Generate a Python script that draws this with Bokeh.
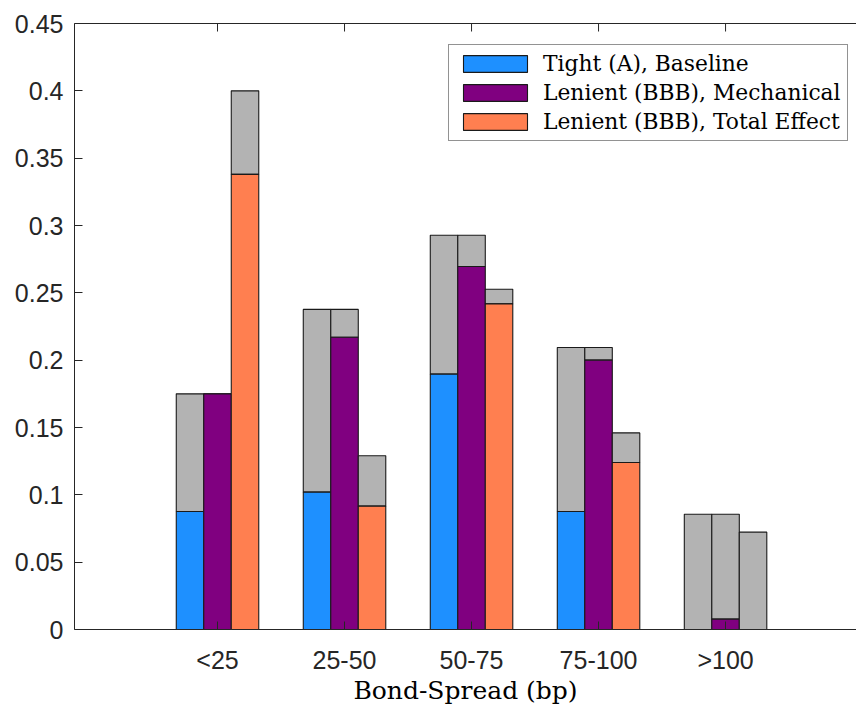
import math
from bokeh.plotting import figure
from bokeh.models import (ColumnDataSource, FixedTicker, LinearAxis, Range1d,
                          Legend, LegendItem)
from bokeh.embed import file_html
from bokeh.resources import INLINE

categories = ["<25", "25-50", "50-75", "75-100", ">100"]
series_names = ["Tight (A), Baseline", "Lenient (BBB), Mechanical", "Lenient (BBB), Total Effect"]
series_colors = ["#1E90FF", "#800080", "#FF7F50"]

# coloured (lower) part of each bar
tight_base = [0.0876, 0.102, 0.1896, 0.0876, 0.0]
lenient_mech = [0.175, 0.217, 0.2696, 0.200, 0.0077]
lenient_total = [0.338, 0.0916, 0.2418, 0.124, 0.0]
# total bar height (grey upper part stacked up to this value)
tight_top = [0.175, 0.2377, 0.2928, 0.2094, 0.0856]
mech_top = [0.175, 0.2377, 0.2928, 0.2094, 0.0856]
total_top = [0.400, 0.129, 0.2527, 0.146, 0.0723]

y_ticks = [0, 0.05, 0.1, 0.15, 0.2, 0.25, 0.3, 0.35, 0.4, 0.45]
y_tick_labels = ["0", "0.05", "0.1", "0.15", "0.2", "0.25", "0.3", "0.35", "0.4", "0.45"]

W, H = 856, 707
p = figure(width=W, height=H, output_backend="svg", toolbar_location=None,
           x_range=Range1d(-0.126, 6.031), y_range=Range1d(y_ticks[0], y_ticks[-1]),
           min_border_left=74, min_border_right=0, min_border_top=23,
           min_border_bottom=78)
p.xgrid.visible = False
p.ygrid.visible = False
p.outline_line_color = None
p.background_fill_color = "white"
p.border_fill_color = "white"

bw = 0.2165
xs = [i + 1 for i in range(len(categories))]
colored = [tight_base, lenient_mech, lenient_total]
tops = [tight_top, mech_top, total_top]
offsets = [-bw, 0.0, bw]
items = []
for k in range(3):
    xk = [x + offsets[k] for x in xs]
    src_c = ColumnDataSource(dict(x=xk, top=colored[k], bottom=[0] * len(xk)))
    src_g = ColumnDataSource(dict(x=xk, top=tops[k], bottom=colored[k]))
    p.vbar(x="x", top="top", bottom="bottom", width=bw, source=src_g,
           fill_color="#B3B3B3", line_color="#1a1a1a", line_width=1.1)
    r = p.vbar(x="x", top="top", bottom="bottom", width=bw, source=src_c,
               fill_color=series_colors[k], line_color="#1a1a1a", line_width=1.1)
    items.append(LegendItem(label=series_names[k], renderers=[r]))

axis_col = "#262626"

xa = p.xaxis[0]
xa.ticker = FixedTicker(ticks=xs)
xa.major_label_overrides = {x: c for x, c in zip(xs, categories)}
xa.axis_label = "Bond-Spread (bp)"
xa.axis_label_text_font = "DejaVu Serif"
xa.axis_label_text_font_style = "normal"
xa.axis_label_text_font_size = "25px"
xa.axis_label_text_color = "#000000"
xa.axis_label_standoff = -1
xa.major_label_text_font = "Liberation Sans"
xa.major_label_text_font_size = "25px"
xa.major_label_text_color = axis_col
xa.major_label_standoff = 16
xa.major_tick_in = 8
xa.major_tick_out = 0
xa.minor_tick_line_color = None
xa.axis_line_color = axis_col
xa.major_tick_line_color = axis_col

ya = p.yaxis[0]
ya.ticker = FixedTicker(ticks=y_ticks)
ya.major_label_overrides = {t: s for t, s in zip(y_ticks, y_tick_labels)}
ya.major_label_text_font = "Liberation Sans"
ya.major_label_text_font_size = "25px"
ya.major_label_text_color = axis_col
ya.major_label_standoff = 11
ya.major_tick_in = 8
ya.major_tick_out = 0
ya.minor_tick_line_color = None
ya.axis_line_color = axis_col
ya.major_tick_line_color = axis_col

# top box line (no labels) and inward tick marks at the category positions
top_ax = LinearAxis(ticker=FixedTicker(ticks=[]), minor_tick_line_color=None,
                    major_tick_line_color=None, axis_line_color=axis_col)
p.add_layout(top_ax, "above")
p.scatter(x=xs, y=[y_ticks[-1]] * len(xs), marker="dash", angle=math.pi / 2,
          size=16, line_color=axis_col, line_width=1)

legend = Legend(items=items, location=(374, 488), margin=0,
                label_text_font="DejaVu Serif", label_text_font_size="21.8px",
                label_text_color="#000000", glyph_width=80, glyph_height=21,
                label_height=21, label_standoff=8, spacing=4, padding=6,
                border_line_color=axis_col, border_line_width=1,
                background_fill_color="white", background_fill_alpha=1.0)
p.add_layout(legend, "center")

open("out.html", "w").write(file_html(p, INLINE))
